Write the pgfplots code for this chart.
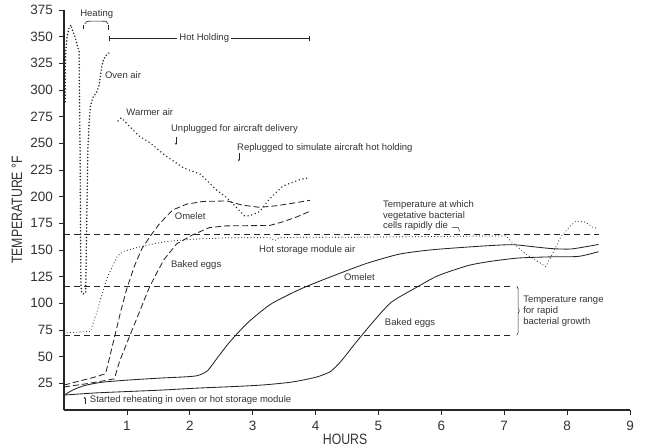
\documentclass[border=0pt]{standalone}
\usepackage{fontspec}
\setmainfont{Liberation Sans}
\newfontfamily\narrowfont{Liberation Sans}[FakeStretch=0.82]
\usepackage{pgfplots}
\pgfplotsset{compat=1.18}
\usetikzlibrary{decorations.pathreplacing,arrows.meta}
\tikzset{
  annot/.style={font=\fontsize{9.5}{10.5}\selectfont, text=black!80, inner sep=0pt, text height=6.8pt, text depth=1.9pt},
  bigdot/.style={line width=1.7pt, dash pattern=on 0pt off 3.2pt, line cap=round, black!85},
  meddot/.style={line width=1.6pt, dash pattern=on 0pt off 3.8pt, line cap=round, black!85},
  smalldot/.style={line width=1.15pt, dash pattern=on 0pt off 3.2pt, line cap=round, black!85},
  fooddash/.style={line width=0.85pt, dash pattern=on 6pt off 3pt, black!85},
  refdash/.style={line width=0.65pt, dash pattern=on 6pt off 4pt, black!85},
  solidc/.style={line width=0.85pt, black!85},
  smallarrow/.style={-{Stealth[length=2.2pt,width=2pt]}, line width=0.5pt, black!85}
}
\begin{document}
\begin{tikzpicture}
\begin{axis}[
  name=ax,
  scale only axis, width=566pt, height=400pt,
  xmin=0, xmax=9, ymin=0, ymax=375,
  axis x line=bottom, axis y line=left,
  axis line style={-, line width=2.2pt, black!85},
  xtick={1,...,9}, ytick={25,50,...,375},
  tick align=outside, major tick length=5pt,
  tick style={line width=0.6pt, black!85},
  /pgf/number format/assume math mode=true,
  ticklabel style={font=\fontsize{13.5}{14}\selectfont, text=black!80},
  xticklabel style={yshift=-2.5pt},
  yticklabel style={xshift=-2.5pt},
  clip=false,
]
% reference lines
\addplot[refdash] coordinates {(0,165) (8.5,165)};
\addplot[refdash] coordinates {(0,115.5) (7.15,115.5)};
\addplot[refdash] coordinates {(0,70) (7.15,70)};

% oven air
\addplot[bigdot] coordinates {
(0.02,289) (0.02,305) (0.02,320) (0.03,338) (0.05,350) (0.08,358) (0.11,361)
(0.14,355) (0.18,349) (0.21,342) (0.24,336) (0.245,300) (0.255,250) (0.26,200)
(0.265,150) (0.27,118) (0.28,110) (0.31,109) (0.345,110) (0.35,130) (0.36,170)
(0.37,210) (0.38,245) (0.40,270) (0.42,285) (0.46,293) (0.52,298) (0.56,305)
(0.59,318) (0.62,327) (0.66,332) (0.72,335)};

% warmer air
\addplot[meddot] coordinates {
(0.86,271) (0.91,274) (0.99,269) (1.19,257) (1.38,250) (1.6,239) (1.9,227)
(2.17,221) (2.43,206) (2.59,199) (2.79,187) (2.87,182) (2.95,182) (3.03,184)
(3.11,186) (3.27,198) (3.48,210) (3.75,216) (3.91,218)};

% hot storage module air
\addplot[smalldot] coordinates {
(0,72.2) (0.2,73) (0.42,73.6) (0.52,91.4) (0.68,123) (0.85,144.5) (0.96,149)
(1.23,153.4) (1.6,157.8) (2.04,160.1) (2.58,161.4) (3.27,161.6) (3.35,158.7)
(3.42,161.6) (3.91,162) (4.69,162) (7.03,163.3) (7.1,158.6) (7.37,145.1)
(7.53,139.4) (7.66,134.5) (7.77,146.6) (7.9,162.4) (8.05,172.5) (8.14,177.1)
(8.29,176.1) (8.41,171.2) (8.5,170.2)};

% omelet (dashed)
\addplot[fooddash] coordinates {
(0,23.4) (0.3,28) (0.5,31) (0.66,34) (0.72,48) (0.81,70) (0.9,92) (1.0,114)
(1.12,135) (1.24,151.5) (1.39,164.5) (1.52,174.7) (1.73,187.6) (1.95,193)
(2.21,195.5) (2.59,196) (2.84,192) (3.11,190) (3.38,191.5) (3.65,194) (3.91,196.6)};

% baked eggs (dashed)
\addplot[fooddash] coordinates {
(0,21.6) (0.4,25) (0.8,29.2) (0.88,45) (1.05,70.2) (1.2,92) (1.35,114)
(1.47,128) (1.59,141) (1.79,155.7) (2.04,164) (2.31,171) (2.57,172.6)
(2.9,172.8) (3.27,173) (3.48,176.4) (3.7,181) (3.91,186.3)};

% omelet (solid)
\addplot[solidc, smooth, tension=0.4] coordinates {
(0,14) (0.15,19) (0.33,23) (0.6,26) (1.0,28) (1.55,30) (1.9,31) (2.12,32.2)
(2.28,36.7) (2.44,49) (2.6,61.3) (2.76,72) (2.97,84.4) (3.3,99.7) (3.78,113.9)
(4.26,125.3) (4.8,137.2) (5.33,146.1) (5.85,150.2) (6.6,153.5) (7.12,155)
(7.44,153.2) (7.76,151.3) (8.07,151) (8.5,155.2)};

% baked eggs (solid)
\addplot[solidc, smooth, tension=0.4] coordinates {
(0,14) (0.5,16) (1.0,17.3) (1.56,18.7) (2.11,20.5) (2.7,22) (3.17,23.5)
(3.6,26) (3.86,28.8) (4.05,31.5) (4.24,36.2) (4.4,45.4) (4.63,62.4) (4.89,80.9)
(5.2,100.8) (5.59,114.5) (5.95,126) (6.43,135.5) (6.8,139.5) (7.23,142.5)
(7.75,143.6) (8.18,144) (8.5,148.4)};

% Heating bracket
\draw[line width=0.6pt, black!85] (axis cs:0.33,362) .. controls (axis cs:0.36,364.5) .. (axis cs:0.42,364.5) -- (axis cs:0.6,364.5) .. controls (axis cs:0.68,364.5) .. (axis cs:0.7,362);
\draw[line width=0.6pt, black!85] (axis cs:0.3,357) -- (axis cs:0.3,361);
\draw[line width=0.6pt, black!85] (axis cs:0.71,356.5) -- (axis cs:0.71,361);
\node[annot] at (axis cs:0.52,370.8) {Heating};

% Hot holding
\draw[line width=0.6pt, black!85] (axis cs:0.72,348.3) -- (axis cs:3.9,348.3);
\draw[line width=0.6pt, black!85] (axis cs:0.72,345.5) -- (axis cs:0.72,351);
\draw[line width=0.6pt, black!85] (axis cs:3.9,345.5) -- (axis cs:3.9,351);
\node[annot, fill=white, inner xsep=2pt] at (axis cs:2.23,348.3) {Hot Holding};

\node[annot, anchor=west] at (axis cs:0.65,313.4) {Oven air};
\node[annot, anchor=west] at (axis cs:0.99,278) {Warmer air};
\node[annot, anchor=west] at (axis cs:1.7,263.6) {Unplugged for aircraft delivery};
\draw[smallarrow] (axis cs:1.78,256) -- (axis cs:1.78,248.5);
\node[annot, anchor=west] at (axis cs:2.75,245.6) {Replugged to simulate aircraft hot holding};
\draw[smallarrow] (axis cs:2.78,240.5) -- (axis cs:2.78,233);
\node[annot, anchor=west] at (axis cs:1.76,181) {Omelet};
\node[annot, anchor=west] at (axis cs:1.7,136) {Baked eggs};
\node[annot, anchor=west] at (axis cs:3.1,149.6) {Hot storage module air};
\node[annot, anchor=west] at (axis cs:5.07,191.7) {Temperature at which};
\node[annot, anchor=west] at (axis cs:5.07,182) {vegetative bacterial};
\node[annot, anchor=west] at (axis cs:5.07,172) {cells rapidly die};
\draw[line width=0.5pt, black!85] (axis cs:6.17,171) -- (axis cs:6.27,171) -- (axis cs:6.29,167.5);
\node[annot, anchor=west] at (axis cs:4.45,123.8) {Omelet};
\node[annot, anchor=west] at (axis cs:5.1,81.9) {Baked eggs};
\draw[line width=0.6pt, black!85, decorate, decoration={brace, amplitude=2.5pt}] (axis cs:7.2,116) -- (axis cs:7.2,70);
\node[annot, anchor=west] at (axis cs:7.3,103) {Temperature range};
\node[annot, anchor=west] at (axis cs:7.3,93.2) {for rapid};
\node[annot, anchor=west] at (axis cs:7.3,82.9) {bacterial growth};
\draw[smallarrow] (axis cs:0.33,5.5) -- (axis cs:0.33,12.5);
\node[annot, anchor=west] at (axis cs:0.41,9) {Started reheating in oven or hot storage module};

% axis labels
\node[rotate=90, font=\narrowfont\fontsize{15}{15}\selectfont, text=black!80] at ([xshift=-47pt]rel axis cs:0,0.5) {TEMPERATURE °F};
\node[font=\narrowfont\fontsize{15}{15}\selectfont, text=black!80] at ([yshift=-29pt]axis cs:4.47,0) {HOURS};
\end{axis}
\pgfresetboundingbox
\path ([shift={(-64pt,-37pt)}]ax.south west) rectangle ([shift={(17pt,10pt)}]ax.north east);
\end{tikzpicture}
\end{document}
